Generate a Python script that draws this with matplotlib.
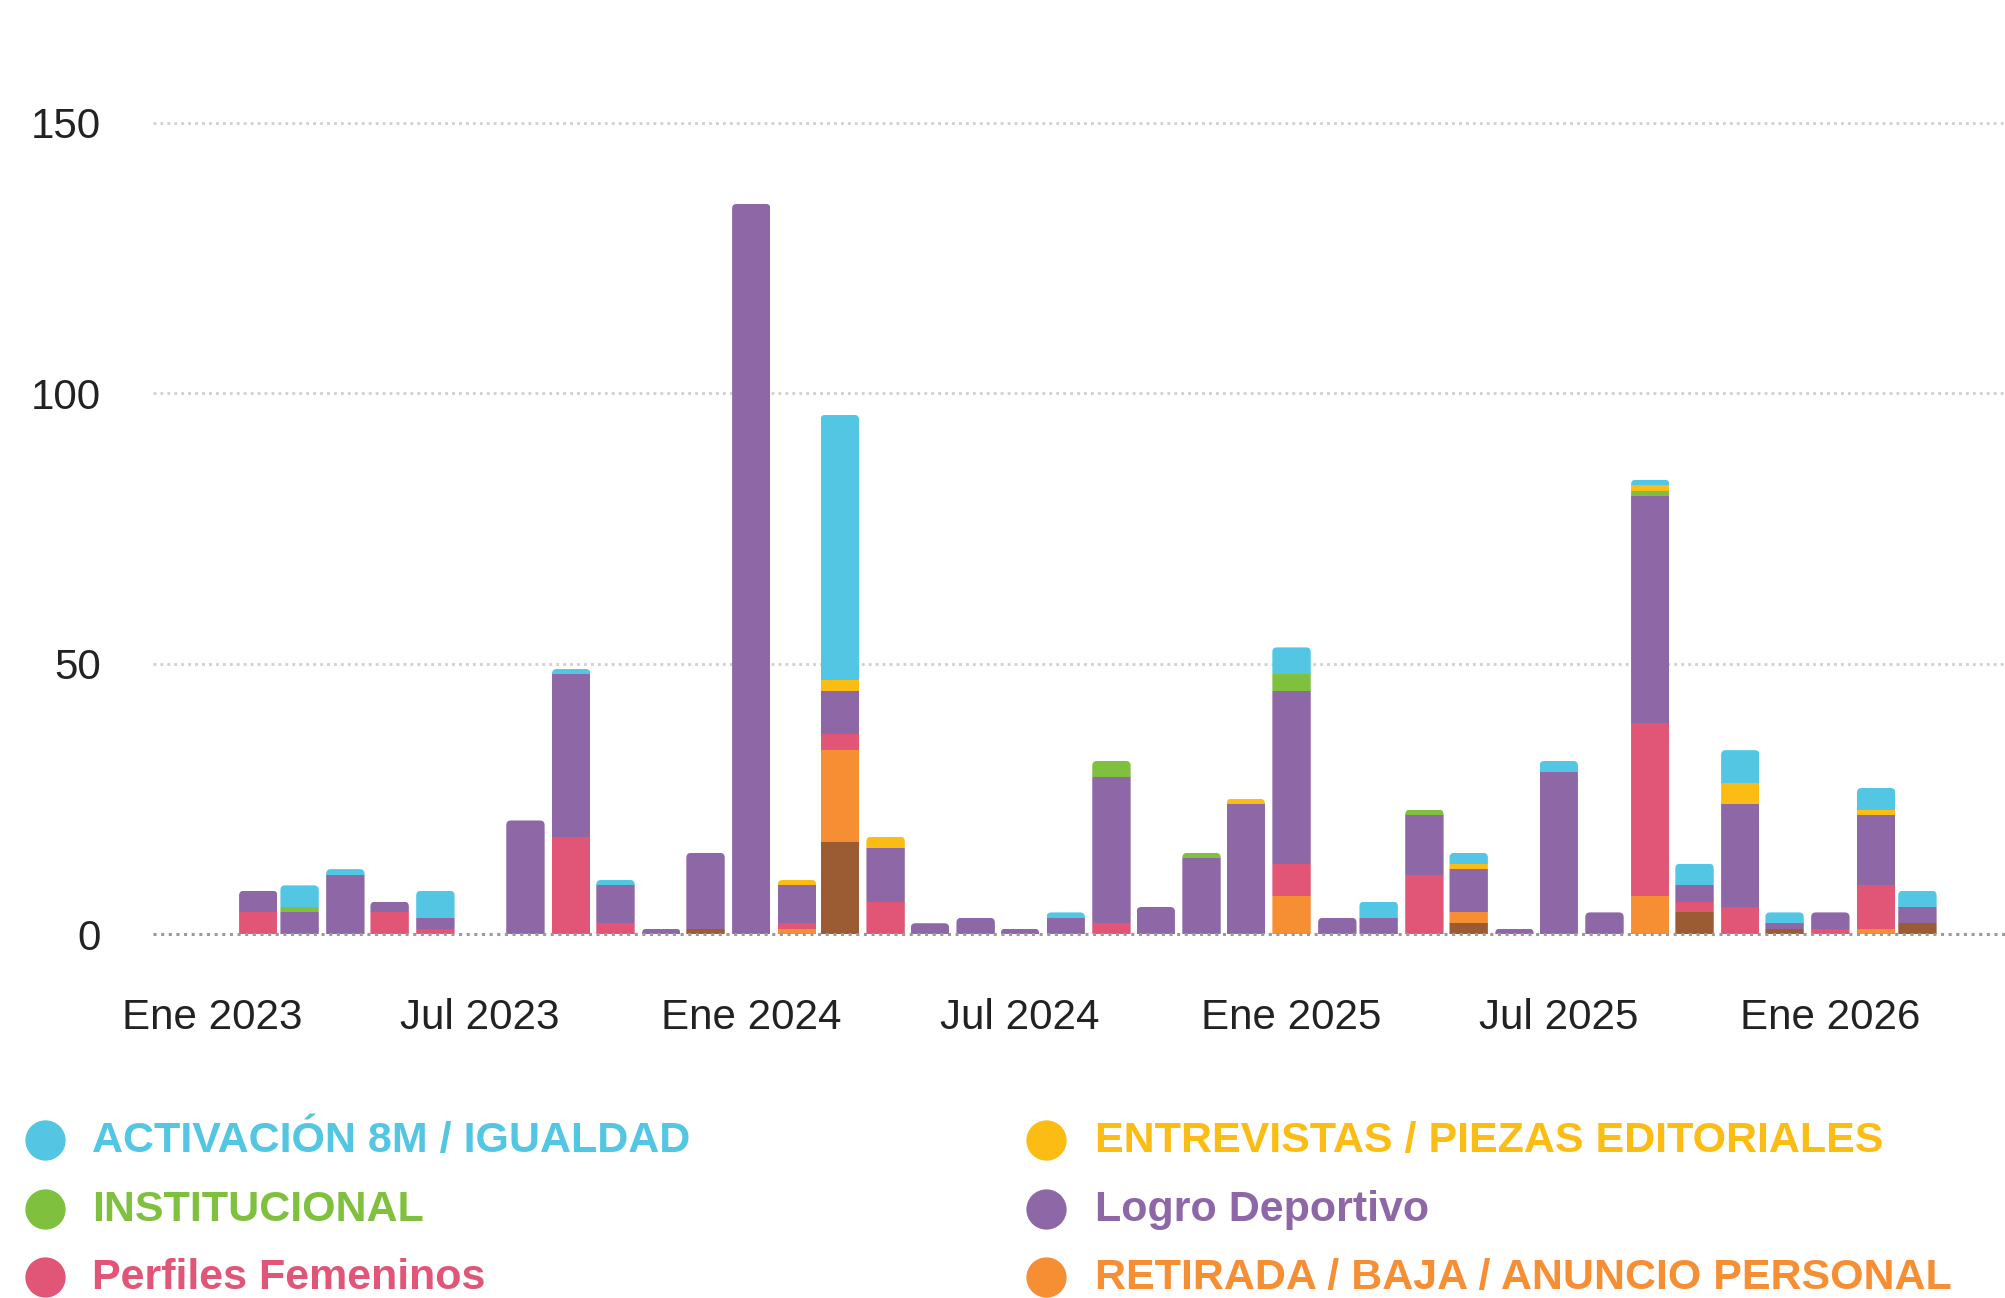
import matplotlib
matplotlib.use("Agg")
import matplotlib.pyplot as plt
import matplotlib.dates as mdates
from matplotlib.patches import FancyBboxPatch
from matplotlib.lines import Line2D
import numpy as np
import pandas as pd

plt.rcParams["font.family"] = ["Liberation Sans", "DejaVu Sans"]

# meses de ene 2023 a mar 2026
meses = pd.date_range("2023-01-01", "2026-03-01", freq="MS")

# publicaciones por categoria y mes (39 meses)
otros = [0, 0, 0, 0, 0, 0, 0, 0, 0, 0, 0, 1, 0, 0, 17, 0, 0, 0, 0, 0,
         0, 0, 0, 0, 0, 0, 0, 0, 2, 0, 0, 0, 0, 4, 0, 1, 0, 0, 2]
retirada = [0, 0, 0, 0, 0, 0, 0, 0, 0, 0, 0, 0, 0, 1, 17, 0, 0, 0, 0, 0,
            0, 0, 0, 0, 7, 0, 0, 0, 2, 0, 0, 0, 7, 0, 0, 0, 0, 1, 0]
perfiles = [0, 4, 0, 0, 4, 1, 0, 0, 18, 2, 0, 0, 0, 1, 3, 6, 0, 0, 0, 0,
            2, 0, 0, 0, 6, 0, 0, 11, 0, 0, 0, 0, 32, 2, 5, 0, 1, 8, 0]
logro = [0, 4, 4, 11, 2, 2, 0, 21, 30, 7, 1, 14, 135, 7, 8, 10, 2, 3, 1, 3,
         27, 5, 14, 24, 32, 3, 3, 11, 8, 1, 30, 4, 42, 3, 19, 1, 3, 13, 3]
institucional = [0, 0, 1, 0, 0, 0, 0, 0, 0, 0, 0, 0, 0, 0, 0, 0, 0, 0, 0, 0,
                 3, 0, 1, 0, 3, 0, 0, 1, 0, 0, 0, 0, 1, 0, 0, 0, 0, 0, 0]
entrevistas = [0, 0, 0, 0, 0, 0, 0, 0, 0, 0, 0, 0, 0, 1, 2, 2, 0, 0, 0, 0,
               0, 0, 0, 1, 0, 0, 0, 0, 1, 0, 0, 0, 1, 0, 4, 0, 0, 1, 0]
activacion = [0, 0, 4, 1, 0, 5, 0, 0, 1, 1, 0, 0, 0, 0, 49, 0, 0, 0, 0, 1,
              0, 0, 0, 0, 5, 0, 3, 0, 2, 0, 2, 0, 1, 4, 6, 2, 0, 4, 3]

# orden de apilado, de abajo hacia arriba
series = [
    (otros, "#9b5c34", None),
    (retirada, "#f68f34", "RETIRADA / BAJA / ANUNCIO PERSONAL"),
    (perfiles, "#e15577", "Perfiles Femeninos"),
    (logro, "#8e67a6", "Logro Deportivo"),
    (institucional, "#80c03f", "INSTITUCIONAL"),
    (entrevistas, "#fbbd14", "ENTREVISTAS / PIEZAS EDITORIALES"),
    (activacion, "#52c6e2", "ACTIVACIÓN 8M / IGUALDAD"),
]

x = mdates.date2num(meses.to_pydatetime())
ancho = 26  # dias

fig = plt.figure(figsize=(20.06, 12.98), dpi=100)
ax = fig.add_axes([0.0765, 0.2804, 0.9235, 0.625])

totales = np.zeros(len(meses))
barras = []
for valores, color, etiqueta in series:
    v = np.array(valores, dtype=float)
    b = ax.bar(x, v, width=ancho, bottom=totales, color=color, linewidth=0, zorder=3)
    barras.append(b)
    totales += v

ax.set_ylim(0, 150)
ax.set_xlim(mdates.date2num(pd.Timestamp("2022-11-22")),
            mdates.date2num(pd.Timestamp("2026-04-30")))

# esquinas superiores redondeadas: recorte con una caja por barra
radio = 3.2
aspecto = 0.274
for i, total in enumerate(totales):
    if total <= 0:
        continue
    caja = FancyBboxPatch((x[i] - ancho / 2, -3), ancho, total + 3,
                          boxstyle=f"round,pad=0,rounding_size={radio}",
                          mutation_aspect=aspecto, transform=ax.transData)
    for b in barras:
        b.patches[i].set_clip_path(caja)

# rejilla punteada
for y in [50, 100, 150]:
    ax.axhline(y, color="#cfcfcf", lw=2, ls=(0, (1, 1.5)), zorder=1, clip_on=False)
ax.axhline(0, color="#9a9a9a", lw=2.2, ls=(0, (1, 1.5)), zorder=4, clip_on=False)

ax.set_yticks([0, 50, 100, 150])
ax.set_yticklabels(["0", "50", "100", "150"])

nombres_mes = {1: "Ene", 7: "Jul"}
ticks = pd.date_range("2023-01-01", "2026-01-01", freq="6MS")
ax.set_xticks(mdates.date2num(ticks.to_pydatetime()))
ax.set_xticklabels([f"{nombres_mes[t.month]} {t.year}" for t in ticks])

ax.tick_params(axis="both", length=0, labelsize=30.3, labelcolor="#222222")
ax.tick_params(axis="y", pad=38)
ax.tick_params(axis="x", pad=46)
for s in ax.spines.values():
    s.set_visible(False)
ax.grid(False)

# leyenda en dos columnas
filas_y = [1 - 1141 / 1298, 1 - 1210 / 1298, 1 - 1278 / 1298]
col_marca = [44.8 / 2006, 1046.5 / 2006]
col_texto = [92 / 2006, 1095 / 2006]
entradas = [s for s in series[::-1] if s[2] is not None]
for k, (_, color, etiqueta) in enumerate(entradas):
    col = k % 2
    fila = k // 2
    fig.add_artist(Line2D([col_marca[col]], [filas_y[fila] + 0.001], marker="o",
                          markersize=28, color=color, linestyle="none",
                          transform=fig.transFigure))
    fig.text(col_texto[col], filas_y[fila], etiqueta, color=color,
             fontsize=31, fontweight="bold", va="center", ha="left")

fig.savefig("out.png", dpi=100, facecolor="white")
